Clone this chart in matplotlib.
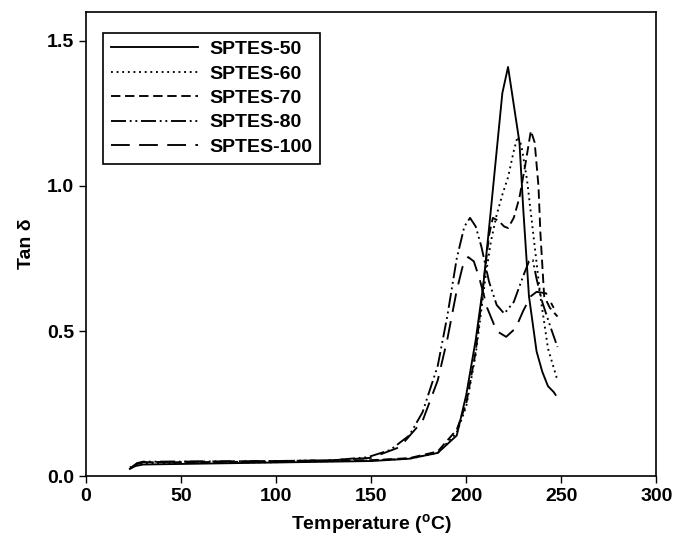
import matplotlib
matplotlib.use("Agg")
import matplotlib.pyplot as plt

# Temperature (C) and tan delta readings for each sample
t50 = [23, 26, 30, 50, 100, 150, 170, 185, 195, 200, 205, 209, 213, 216, 219, 222, 225, 228, 230, 233, 237, 240, 243, 246, 247]
v50 = [0.025, 0.035, 0.04, 0.042, 0.047, 0.052, 0.06, 0.08, 0.14, 0.28, 0.47, 0.66, 0.92, 1.12, 1.32, 1.41, 1.28, 1.15, 0.92, 0.62, 0.43, 0.36, 0.31, 0.29, 0.28]

t60 = [23, 27, 30, 50, 100, 150, 170, 185, 195, 200, 205, 210, 213, 216, 219, 222, 225, 227, 229, 232, 235, 239, 243, 248]
v60 = [0.03, 0.04, 0.045, 0.045, 0.048, 0.054, 0.06, 0.08, 0.15, 0.24, 0.42, 0.68, 0.81, 0.9, 0.97, 1.03, 1.12, 1.17, 1.14, 1.02, 0.85, 0.62, 0.44, 0.33]

t70 = [24, 27, 30, 50, 100, 150, 170, 185, 195, 200, 205, 209, 212, 214, 217, 220, 222, 225, 228, 231, 234, 236, 238, 239, 241, 244, 248]
v70 = [0.03, 0.045, 0.048, 0.048, 0.05, 0.055, 0.062, 0.085, 0.16, 0.25, 0.43, 0.66, 0.83, 0.89, 0.88, 0.86, 0.855, 0.89, 0.96, 1.07, 1.19, 1.15, 1.0, 0.84, 0.62, 0.58, 0.55]

t80 = [24, 27, 30, 50, 100, 130, 148, 160, 170, 177, 185, 190, 195, 199, 202, 205, 208, 212, 216, 220, 225, 230, 233, 235, 237, 240, 244, 248]
v80 = [0.03, 0.045, 0.05, 0.05, 0.052, 0.055, 0.065, 0.09, 0.14, 0.22, 0.38, 0.55, 0.75, 0.86, 0.89, 0.86, 0.79, 0.67, 0.59, 0.56, 0.6, 0.69, 0.74, 0.745, 0.68, 0.6, 0.52, 0.445]

t100 = [23, 26, 30, 50, 100, 130, 150, 165, 177, 185, 190, 195, 198, 201, 204, 207, 211, 216, 221, 226, 230, 234, 237, 242, 246]
v100 = [0.025, 0.04, 0.048, 0.05, 0.052, 0.055, 0.063, 0.1, 0.19, 0.33, 0.47, 0.64, 0.72, 0.755, 0.74, 0.68, 0.58, 0.5, 0.48, 0.51, 0.57, 0.62, 0.635, 0.63, 0.58]

labels = ["SPTES-50", "SPTES-60", "SPTES-70", "SPTES-80", "SPTES-100"]

plt.rcParams["font.family"] = ["Liberation Sans", "DejaVu Sans"]
plt.rcParams["font.weight"] = "bold"
plt.rcParams["mathtext.fontset"] = "custom"
plt.rcParams["mathtext.bf"] = "Liberation Sans:bold"
plt.rcParams["mathtext.rm"] = "Liberation Sans:bold"

fig = plt.figure(figsize=(6.78, 5.38), dpi=100)
ax = fig.add_axes([0.127, 0.115, 0.841, 0.863])

lw = 1.35
ax.plot(t50, v50, color="black", lw=lw, linestyle="-", label=labels[0])
ax.plot(t60, v60, color="black", lw=lw, linestyle=(0, (1, 2)), label=labels[1])
ax.plot(t70, v70, color="black", lw=lw, linestyle=(0, (5, 2.5)), label=labels[2])
ax.plot(t80, v80, color="black", lw=lw, linestyle=(0, (8, 2, 1, 2, 1, 2)), label=labels[3])
ax.plot(t100, v100, color="black", lw=lw, linestyle=(0, (10, 5)), label=labels[4])

ax.set_xlim(0, 300)
ax.set_ylim(0, 1.6)
ax.set_xticks([0, 50, 100, 150, 200, 250, 300])
ax.set_yticks([0.0, 0.5, 1.0, 1.5])
ax.set_yticklabels(["0.0", "0.5", "1.0", "1.5"])
ax.tick_params(direction="out", length=5, width=1, labelsize=14, top=False, right=False)
for s in ax.spines.values():
    s.set_linewidth(1.2)

ax.set_xlabel(r"Temperature ($^{\mathbf{o}}$C)", fontsize=14, fontweight="bold", labelpad=5)
ax.set_ylabel("Tan δ", fontsize=14, fontweight="bold", labelpad=9)

leg = ax.legend(loc="upper left", bbox_to_anchor=(0.03, 0.955), borderaxespad=0,
                fontsize=14, handlelength=4.5, handletextpad=0.55, labelspacing=0.35,
                fancybox=False, framealpha=1, edgecolor="black", borderpad=0.4)
leg.get_frame().set_linewidth(1.2)

fig.savefig("out.png", dpi=100)
